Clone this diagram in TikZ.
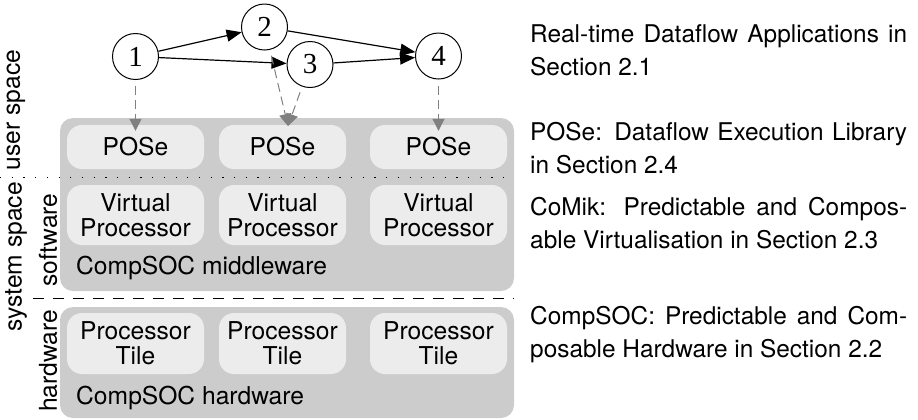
\documentclass[tikz,border=0pt]{standalone}
\usepackage{fontspec}
\setmainfont{TeX Gyre Heros}
\newfontfamily\numfont{Liberation Serif}
\usetikzlibrary{arrows.meta}
\definecolor{layergrey}{gray}{0.8}
\definecolor{unitgrey}{gray}{0.925}
\definecolor{bindgrey}{gray}{0.5}
\tikzset{
  layer/.style={fill=layergrey, rounded corners=13bp},
  unit/.style={fill=unitgrey, rounded corners=15bp, inner sep=0pt, align=center},
  actor/.style={circle, draw, line width=1bp, minimum size=46bp, inner sep=0pt, font=\numfont\fontsize{29bp}{29bp}\selectfont},
  flow/.style={line width=1.2bp, -{Triangle[length=15bp,width=12bp]}},
  bind/.style={draw=bindgrey, line width=1bp, dash pattern=on 9bp off 5bp, shorten <=6bp, -{Triangle[length=12bp,width=12bp]}},
  side/.style={rotate=90, inner sep=0pt},
  note/.style={anchor=west, inner sep=0pt, align=left, font=\fontsize{24.4bp}{33bp}\selectfont},
}

\begin{document}
\begin{tikzpicture}[x=1bp,y=-1bp, font=\fontsize{24.6bp}{25bp}\selectfont]
\useasboundingbox (0,0) rectangle (918,419);
% layers
\fill[layer] (60,118) rectangle (514,291);
\fill[layer] (60,307) rectangle (514,418);
\foreach \i/\x/\w in {1/135.5/137, 2/282.5/127, 3/438.5/137} {
  \node[unit, minimum width=\w bp, minimum height=44bp] (pose\i) at (\x,147) {POSe};
  \node[unit, minimum width=\w bp, minimum height=60bp] (vp\i) at (\x,215) {Virtual\\Processor};
  \node[unit, minimum width=\w bp, minimum height=61bp] (tile\i) at (\x,343.5) {Processor\\Tile};
}
\node[anchor=west, inner sep=0pt] (mw) at (76,268) {CompSOC middleware};
\node[anchor=west, inner sep=0pt] (hw) at (76,398) {CompSOC hardware};

% separators
\draw[line width=1bp, dash pattern=on 1.2bp off 10.5bp] (0,177) -- (514,177);
\draw[line width=1bp, dash pattern=on 11bp off 9bp] (33,298) -- (514,298);
\node[side] (us) at (16,110) {user space};
\node[side] (ss) at (16,257) {system space};
\node[side] (sw) at (48,240) {software};
\node[side] (hwl) at (48,361) {hardware};

% application graph
\node[actor] (a1) at (135.5,56.5) {1};
\node[actor] (a2) at (264.5,27) {2};
\node[actor] (a3) at (310,64.5) {3};
\node[actor] (a4) at (438.5,56) {4};
\draw[flow] (a1) -- (a2);
\draw[flow] (a1) -- (a3);
\draw[flow] (a2) -- (a4);
\draw[flow] (a3) -- (a4);

\coordinate (meet) at (288,126);
\draw[bind] (a1) -- ([yshift=-6bp]pose1.north);
\draw[bind] (a2) -- (meet);
\draw[bind] (a3) -- (meet);
\draw[bind] (a4) -- ([yshift=-6bp]pose3.north);

% descriptions
\node[note] (n1) at (530,50) {\makebox[377bp][s]{Real-time Dataflow Applications in}\\Section 2.1};
\node[note] (n2) at (530,148.5) {\makebox[377bp][s]{POSe: Dataflow Execution Library}\\in Section 2.4};
\node[note] (n3) at (530,223.5) {\makebox[377bp][s]{CoMik: Predictable and Compos-}\\able Virtualisation in Section 2.3};
\node[note] (n4) at (530,335) {\makebox[377bp][s]{CompSOC: Predictable and Com-}\\posable Hardware in Section 2.2};
\end{tikzpicture}
\end{document}
